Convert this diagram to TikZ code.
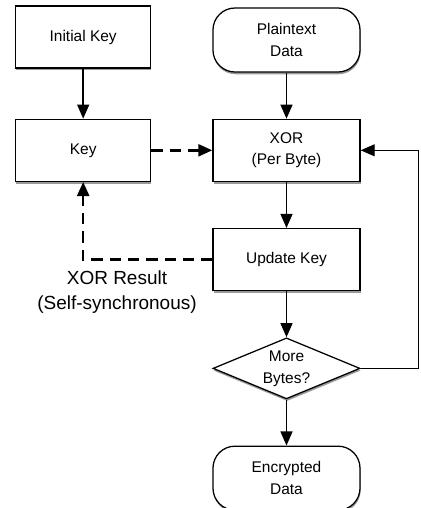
\documentclass[tikz,border=0pt]{standalone}
\usepackage{fontspec}
\setmainfont{Liberation Sans}
\usetikzlibrary{positioning, shapes, arrows.meta, shadows}

\begin{document}
\begin{tikzpicture}[
    x=0.025cm, y=-0.025cm,
    node distance=1.15cm and 1.525cm,
    block/.style={rectangle, draw, line width=0.9pt, fill=white, minimum width=3.375cm, minimum height=1.55cm, align=center, font=\fontsize{11}{15.5}\selectfont, drop shadow={shadow xshift=0.4pt, shadow yshift=-1.6pt, fill=black!80}},
    wide/.style={block, minimum width=3.675cm},
    term/.style={wide, rounded corners=0.55cm, minimum height=1.6cm},
    decision/.style={diamond, draw, line width=0.9pt, fill=white, minimum width=3.675cm, minimum height=1.525cm, inner sep=0pt, drop shadow={shadow xshift=0.4pt, shadow yshift=-1.6pt, fill=black!80}},
    arrow/.style={-{Triangle[length=10pt, width=8.5pt]}, line width=1.1pt},
    dasharrow/.style={arrow, line width=1.8pt, dash pattern=on 8pt off 5pt},
    note/.style={align=center, font=\fontsize{13.5}{17.8}\selectfont}
]
    \useasboundingbox (0,0) rectangle (421,508);

    % Main column
    \node[term] (plain) at (286.5,40) {Plaintext\\Data};
    \node[wide, below=of plain] (xor) {XOR\\(Per Byte)};
    \node[wide, below=of xor] (update) {Update Key};
    \node[decision, below=of update, label={[align=center, font=\fontsize{11}{15.5}\selectfont]center:More\\Bytes?}] (more) {};
    \node[term, below=of more] (enc) {Encrypted\\Data};

    % Key column
    \node[block, left=of xor] (key) {Key};
    \node[block, above=1.25cm of key] (initkey) {Initial Key};

    % Feedback label
    \node[note] (fbnote) at (117,292) {XOR Result\\(Self-synchronous)};

    % Arrows
    \draw[arrow] (plain) -- (xor);
    \draw[arrow] (xor) -- (update);
    \draw[arrow] (update) -- (more);
    \draw[arrow] (more) -- (enc);
    \draw[arrow] (initkey) -- (key);
    \draw[dasharrow] (key) -- (xor);
    \draw[dasharrow] (update.west) -| (key.south);
    \draw[arrow, line width=0.9pt] (more.east) -| ++(58,0) |- (xor.east);
\end{tikzpicture}
\end{document}
